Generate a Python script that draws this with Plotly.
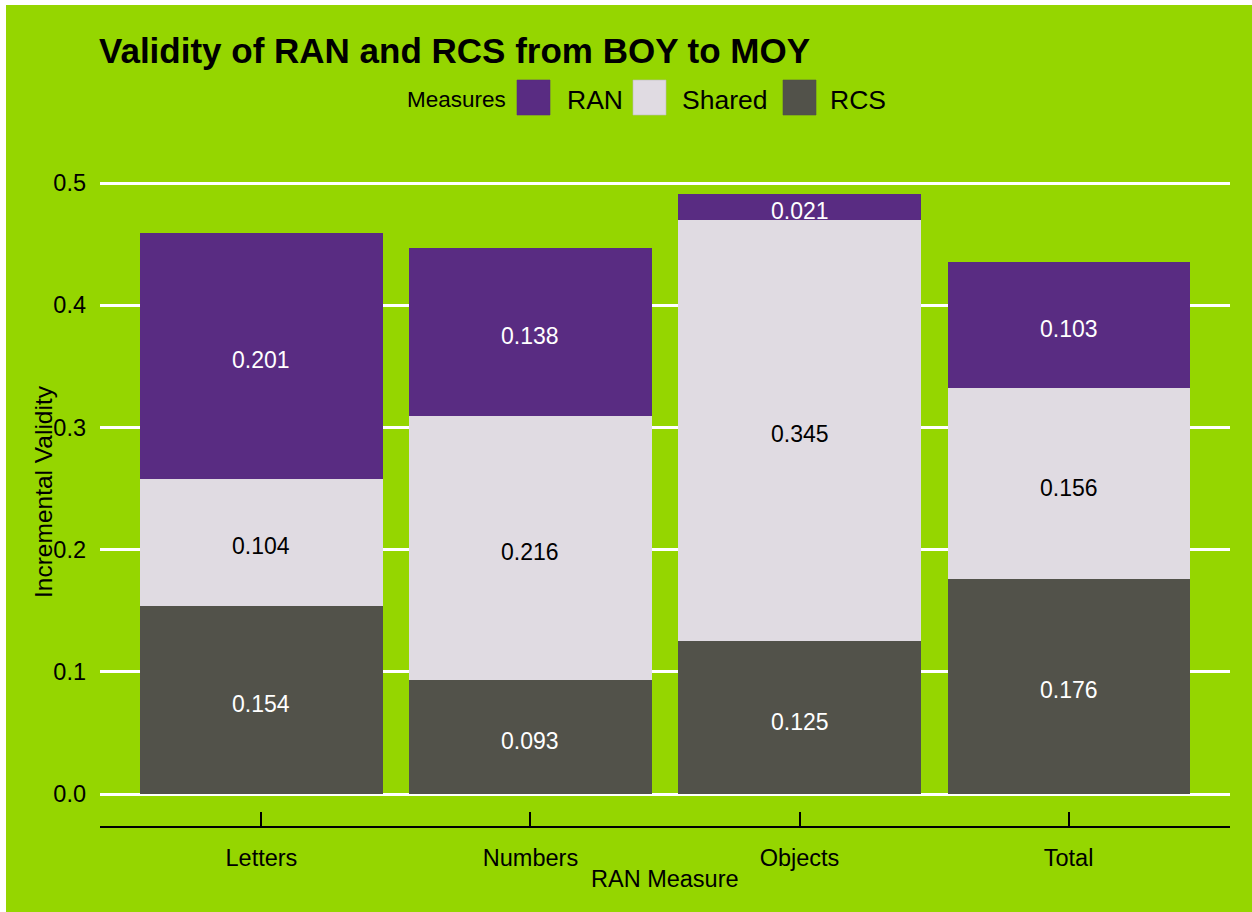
import plotly.graph_objects as go

# ---------------- data ----------------
categories = ["Letters", "Numbers", "Objects", "Total"]
rcs_values = [0.154, 0.093, 0.125, 0.176]
shared_values = [0.104, 0.216, 0.345, 0.156]
ran_values = [0.201, 0.138, 0.021, 0.103]
y_tick_values = [0.0, 0.1, 0.2, 0.3, 0.4, 0.5]
y_tick_labels = ["0.0", "0.1", "0.2", "0.3", "0.4", "0.5"]
series_names = ["RAN", "Shared", "RCS"]
legend_title = "Measures"
chart_title = "Validity of RAN and RCS from BOY to MOY"
x_title = "RAN Measure"
y_title = "Incremental Validity"

# ---------------- style ----------------
GREEN = "#95D600"
RAN_COLOR = "#592C82"
SHARED_COLOR = "#E0DBE2"
RCS_COLOR = "#52524A"
FONT = "Liberation Sans, Arial, sans-serif"

FIG_W, FIG_H = 1252, 912
PLOT_L, PLOT_R, PLOT_T, PLOT_B = 100, 1230, 165, 826  # page px


def px(xp):
    return (xp - PLOT_L) / (PLOT_R - PLOT_L)


def py(yp):
    return (PLOT_B - yp) / (PLOT_B - PLOT_T)


fig = go.Figure()
series = [
    ("RCS", rcs_values, RCS_COLOR, "white"),
    ("Shared", shared_values, SHARED_COLOR, "black"),
    ("RAN", ran_values, RAN_COLOR, "white"),
]
annotations = []
bottoms = [0.0] * len(categories)
for name, vals, col, tcol in series:
    fig.add_trace(go.Bar(
        name=name, x=categories, y=vals,
        marker=dict(color=col, line=dict(width=0)), textposition="none",
    ))
    for i, (c, v) in enumerate(zip(categories, vals)):
        annotations.append(dict(
            text="%.3f" % v, x=c, y=bottoms[i] + v / 2, xref="x", yref="y",
            showarrow=False, xanchor="center", yanchor="middle", yshift=-4,
            font=dict(size=23, color=tcol, family=FONT),
        ))
        bottoms[i] += v

y_bottom = -(PLOT_B - 794) / 1222
y_top = (794 - PLOT_T) / 1222

annotations += [
    dict(text="<b>%s</b>" % chart_title, xref="paper", yref="paper", x=px(97), y=py(50),
         xanchor="left", yanchor="middle", showarrow=False, font=dict(size=35, color="black", family=FONT)),
    dict(text=legend_title, xref="paper", yref="paper", x=px(405), y=py(100),
         xanchor="left", yanchor="middle", showarrow=False, font=dict(size=22.5, color="black", family=FONT)),
    dict(text=x_title, xref="paper", yref="paper", x=px(665), y=py(879),
         xanchor="center", yanchor="middle", showarrow=False, font=dict(size=23.5, color="black", family=FONT)),
    dict(text=y_title, xref="paper", yref="paper", x=px(44), y=py(492), textangle=-90,
         xanchor="center", yanchor="middle", showarrow=False, font=dict(size=24.5, color="black", family=FONT)),
]
shapes = [
    # white strips along the top and left page edges
    dict(type="rect", xref="paper", yref="paper", x0=px(-2), x1=px(FIG_W + 2), y0=py(5), y1=py(-2),
         fillcolor="white", line=dict(width=0), layer="above"),
    dict(type="rect", xref="paper", yref="paper", x0=px(-2), x1=px(6), y0=py(FIG_H + 2), y1=py(-2),
         fillcolor="white", line=dict(width=0), layer="above"),
]
legend_items = [
    ("RAN", RAN_COLOR, 517, 565),
    ("Shared", SHARED_COLOR, 633, 680),
    ("RCS", RCS_COLOR, 783, 828),
]
for name, col, sx, tx in legend_items:
    shapes.append(dict(type="rect", xref="paper", yref="paper", x0=px(sx), x1=px(sx + 33),
                       y0=py(115), y1=py(80), fillcolor=col,
                       line=dict(width=0.6, color="#bdbdbd" if name == "Shared" else col)))
    annotations.append(dict(text=name, xref="paper", yref="paper", x=px(tx), y=py(100),
                            xanchor="left", yanchor="middle", showarrow=False,
                            font=dict(size=26.5, color="black", family=FONT)))

fig.update_layout(
    width=FIG_W, height=FIG_H,
    margin=dict(l=PLOT_L, r=FIG_W - PLOT_R, t=PLOT_T, b=FIG_H - PLOT_B, pad=0),
    paper_bgcolor=GREEN, plot_bgcolor=GREEN,
    barmode="stack", bargap=0.1, showlegend=False,
    font=dict(family=FONT, color="black"),
    annotations=annotations, shapes=shapes,
    xaxis=dict(type="category", range=[-0.6, 3.6], showgrid=False, zeroline=False,
               showline=True, linecolor="black", linewidth=1.5,
               ticks="inside", ticklen=14, tickwidth=1.5, tickcolor="black",
               tickfont=dict(size=23.5, color="black", family=FONT), ticklabelstandoff=10),
    yaxis=dict(range=[y_bottom, y_top], tickvals=y_tick_values, ticktext=y_tick_labels,
               showgrid=True, gridcolor="white", gridwidth=2.5,
               zeroline=True, zerolinecolor="white", zerolinewidth=2.5, showline=False, ticks="",
               tickfont=dict(size=23.5, color="black", family=FONT), ticklabelstandoff=13),
)

fig.write_html("out.html", config={"displayModeBar": False},
               post_script="document.body.style.margin='0';document.body.style.overflow='hidden';")
